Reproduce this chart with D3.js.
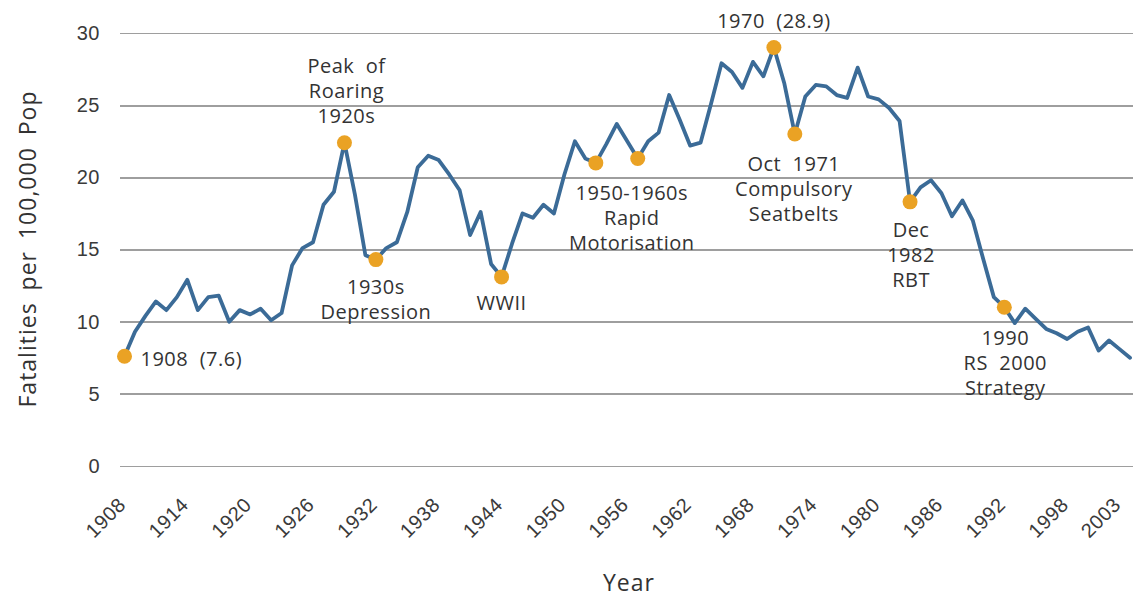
<!DOCTYPE html>
<html lang="en">
<head>
    <meta charset="UTF-8">
    <script type="text/javascript" src="https://cdnjs.cloudflare.com/ajax/libs/d3/7.8.5/d3.min.js"></script>
    <title>Road fatalities per 100,000 population</title>
    <style type="text/css">
        body {
            margin: 0;
            background-color: white;
        }

        svg {
            font-family: "Open Sans", sans-serif;
            fill: #333;
        }

        .grid line {
            stroke: #9e9e9e;
            stroke-width: 1.8px;
            shape-rendering: crispEdges;
        }

        .grid text, .xlabels text {
            font-size: 20px;
            fill: #3a3a3a;
            letter-spacing: 0.5px;
        }

        .note {
            font-size: 20px;
            fill: #333;
            letter-spacing: 0.5px;
            white-space: pre;
        }

        .title {
            font-size: 23px;
            fill: #333;
            letter-spacing: 1px;
            white-space: pre;
        }
    </style>
</head>
<body>

<svg id="chart"></svg>

<script>
    // fatalities per 100,000 population, one value per year from 1908
    var firstYear = 1908;
    var rates = [
        7.6, 9.3, 10.4, 11.4, 10.8, 11.7, 12.9, 10.8, 11.7, 11.8,
        10.0, 10.8, 10.5, 10.9, 10.1, 10.6, 13.9, 15.1, 15.5, 18.1,
        19.0, 22.4, 18.8, 14.6, 14.3, 15.1, 15.5, 17.6, 20.7, 21.5,
        21.2, 20.2, 19.1, 16.0, 17.6, 14.0, 13.1, 15.4, 17.5, 17.2,
        18.1, 17.5, 20.2, 22.5, 21.3, 21.0, 22.3, 23.7, 22.5, 21.3,
        22.5, 23.1, 25.7, 24.0, 22.2, 22.4, 25.1, 27.9, 27.3, 26.2,
        28.0, 27.0, 29.0, 26.5, 23.0, 25.6, 26.4, 26.3, 25.7, 25.5,
        27.6, 25.6, 25.4, 24.8, 23.9, 18.3, 19.3, 19.8, 18.9, 17.3,
        18.4, 17.0, 14.3, 11.7, 11.0, 9.9, 10.9, 10.2, 9.5, 9.2,
        8.8, 9.3, 9.6, 8.0, 8.7, 8.1, 7.5
    ];
    var years = d3.range(firstYear, firstYear + rates.length);

    // axis labels
    var yTicks = [0, 5, 10, 15, 20, 25, 30];
    var xTickYears = [1908, 1914, 1920, 1926, 1932, 1938, 1944, 1950, 1956,
                      1962, 1968, 1974, 1980, 1986, 1992, 1998, 2003];

    // highlighted years and their captions
    var noteYears = [1908, 1929, 1932, 1944, 1953, 1957, 1970, 1972, 1983, 1992];
    var noteLines = [
        ["1908  (7.6)"],
        ["Peak  of", "Roaring", "1920s"],
        ["1930s", "Depression"],
        ["WWII"],
        ["1950-1960s", "Rapid", "Motorisation"],
        [],
        ["1970  (28.9)"],
        ["Oct  1971", "Compulsory", "Seatbelts"],
        ["Dec", "1982", "RBT"],
        ["1990", "RS  2000", "Strategy"]
    ];
    // caption placement relative to its dot: [dx, dy of first line, anchor]
    var noteOffsets = [
        [16, 3, "start"],
        [2, -77, "middle"],
        [0, 27, "middle"],
        [0, 26, "middle"],
        [36, 30, "middle"],
        [0, 0, "middle"],
        [0, -26, "middle"],
        [-1, 30, "middle"],
        [1, 28, "middle"],
        [1, 31, "middle"]
    ];

    var W = 1137, H = 601;
    var margin = { top: 33, right: 4, bottom: 135, left: 120 };
    var width = W - margin.left - margin.right;
    var height = H - margin.top - margin.bottom;
    var lineGap = 25;

    var svg = d3.select("#chart")
            .attr("width", W)
            .attr("height", H);

    var g = svg.append("g")
            .attr("transform", "translate(" + margin.left + "," + margin.top + ")");

    // scales
    var x = d3.scaleLinear()
            .domain([firstYear, years[years.length - 1]])
            .range([4.5, 1010]);
    var y = d3.scaleLinear()
            .domain([0, 30])
            .range([height, 0]);

    // horizontal gridlines with value labels
    var gy = g.append("g")
            .attr("class", "grid")
            .call(d3.axisLeft(y)
                    .tickValues(yTicks)
                    .tickSize(-width)
                    .tickPadding(20));
    gy.select(".domain").remove();

    // rotated year labels
    var gx = g.append("g")
            .attr("class", "xlabels")
            .attr("transform", "translate(0," + height + ")")
            .call(d3.axisBottom(x)
                    .tickValues(xTickYears)
                    .tickSize(0)
                    .tickFormat(d3.format("d")));
    gx.select(".domain").remove();
    gx.selectAll("text")
            .attr("text-anchor", "end")
            .attr("dy", null)
            .attr("y", null)
            .attr("transform", "translate(2,40) rotate(-45)");

    // the line
    var line = d3.line()
            .x(function(d, i) { return x(years[i]); })
            .y(function(d) { return y(d); });

    g.append("path")
            .datum(rates)
            .attr("fill", "none")
            .attr("stroke", "#3b6b97")
            .attr("stroke-width", 3.8)
            .attr("stroke-linejoin", "round")
            .attr("stroke-linecap", "round")
            .attr("d", line);

    // orange dots
    function rateOf(yr) { return rates[yr - firstYear]; }

    g.selectAll(".dot")
            .data(noteYears)
            .enter()
            .append("circle")
            .attr("class", "dot")
            .attr("cx", function(d) { return x(d); })
            .attr("cy", function(d) { return y(rateOf(d)); })
            .attr("r", 7.5)
            .attr("fill", "#eaa224");

    // captions
    noteYears.forEach(function(yr, k) {
        var off = noteOffsets[k];
        var t = g.append("text")
                .attr("class", "note")
                .attr("text-anchor", off[2]);
        noteLines[k].forEach(function(s, j) {
            t.append("tspan")
                    .attr("x", x(yr) + off[0])
                    .attr("y", y(rateOf(yr)) + off[1] + j * lineGap)
                    .attr("dy", "0.35em")
                    .text(s);
        });
    });

    // axis titles
    svg.append("text")
            .attr("class", "title")
            .attr("text-anchor", "middle")
            .attr("transform", "translate(36,249) rotate(-90)")
            .attr("word-spacing", "5px")
            .text("Fatalities per 100,000 Pop");

    svg.append("text")
            .attr("class", "title")
            .attr("text-anchor", "middle")
            .attr("x", 629)
            .attr("y", 591)
            .text("Year");
</script>

</body>
</html>
